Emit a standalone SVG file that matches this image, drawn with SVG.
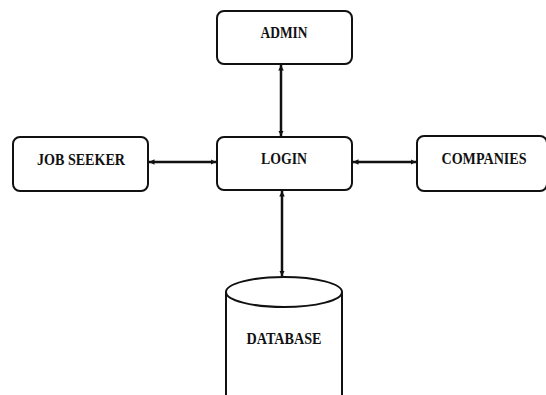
<svg xmlns="http://www.w3.org/2000/svg" width="546" height="395" viewBox="0 0 546 395">
  <style>
    .box { fill: #fff; stroke: #111; stroke-width: 2; }
    .lbl { font-family: "Liberation Serif", "Times New Roman", serif; font-weight: bold; font-size: 16px; fill: #111; text-anchor: middle; }
    .link { stroke: #111; stroke-width: 2.5; fill: none; marker-start: url(#head); marker-end: url(#head); }
  </style>
  <defs>
    <marker id="head" viewBox="0 0 6 6" refX="6" refY="3" markerWidth="2.2" markerHeight="2.2" orient="auto-start-reverse" markerUnits="strokeWidth">
      <path d="M0,0 L6,3 L0,6 z" fill="#111"/>
    </marker>
  </defs>
  <rect width="546" height="395" fill="#fff"/>

  <g id="connectors">
    <line class="link" x1="281" y1="65" x2="281" y2="136"/>
    <line class="link" x1="149" y1="162" x2="216" y2="162"/>
    <line class="link" x1="353" y1="162" x2="416" y2="162"/>
    <line class="link" x1="282" y1="191" x2="282" y2="276"/>
  </g>

  <g id="admin">
    <rect class="box" x="217" y="11" width="135" height="53" rx="7"/>
    <text class="lbl" x="284" y="38" textLength="47" lengthAdjust="spacingAndGlyphs">ADMIN</text>
  </g>

  <g id="login">
    <rect class="box" x="217" y="137" width="135" height="53" rx="7"/>
    <text class="lbl" x="284" y="164" textLength="46" lengthAdjust="spacingAndGlyphs">LOGIN</text>
  </g>

  <g id="job-seeker">
    <rect class="box" x="13" y="137" width="135" height="54" rx="7"/>
    <text class="lbl" x="81" y="165" textLength="88" lengthAdjust="spacingAndGlyphs">JOB SEEKER</text>
  </g>

  <g id="companies">
    <rect class="box" x="417" y="136" width="130" height="55" rx="7"/>
    <text class="lbl" x="484" y="164" textLength="85" lengthAdjust="spacingAndGlyphs">COMPANIES</text>
  </g>

  <g id="database">
    <path class="box" d="M226,292 L226,400 L342,400 L342,292"/>
    <ellipse class="box" cx="284" cy="292" rx="58" ry="15"/>
    <text class="lbl" x="284" y="344" textLength="75" lengthAdjust="spacingAndGlyphs">DATABASE</text>
  </g>
</svg>
